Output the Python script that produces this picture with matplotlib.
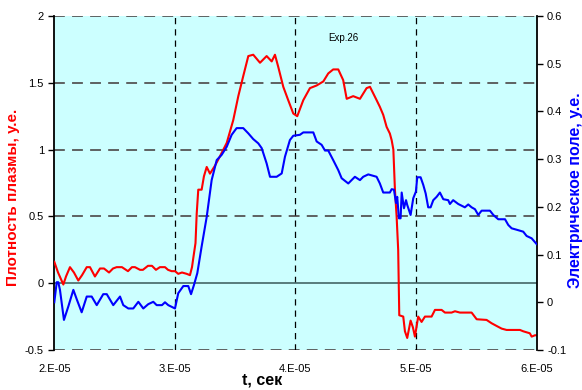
import numpy as np
import matplotlib
matplotlib.use('Agg')
import matplotlib.pyplot as plt

plt.rcParams['font.family'] = ['Liberation Sans', 'DejaVu Sans']

# плотность плазмы (левая ось), время в мкс
t_red = [20.0, 20.31, 20.75, 20.97, 21.30, 21.63, 21.99, 22.30, 22.69, 22.96,
         23.37, 23.79, 24.12, 24.54, 24.87, 25.17, 25.61, 26.11, 26.44, 26.69,
         27.11, 27.35, 27.77, 28.10, 28.43, 28.76, 29.18, 29.43, 29.73, 30.01,
         30.28, 30.59, 30.98, 31.25, 31.42, 31.53, 31.71, 31.81, 31.94, 32.22,
         32.41, 32.64, 32.91, 33.33, 33.74, 34.30, 34.84, 35.26, 35.67, 36.09,
         36.50, 37.06, 37.61, 38.03, 38.30, 38.57, 38.99, 39.40, 39.82, 40.15,
         40.65, 41.20, 41.76, 42.31, 42.72, 43.13, 43.55, 43.96, 44.25, 44.79,
         45.35, 45.90, 46.18, 46.73, 47.00, 47.28, 47.56, 47.83, 47.98, 48.12,
         48.25, 48.39, 48.52, 48.61, 48.94, 49.08, 49.27, 49.55, 49.74, 49.91,
         50.18, 50.46, 50.74, 51.29, 51.57, 52.12, 52.40, 52.95, 53.23, 53.64,
         54.61, 55.03, 55.85, 56.27, 56.68, 57.10, 57.51, 58.62, 58.89, 59.44,
         59.59, 59.86, 60.0]
n_red = [0.16, 0.08, -0.01, 0.05, 0.12, 0.08, 0.02, 0.06, 0.12, 0.12,
         0.05, 0.11, 0.11, 0.08, 0.11, 0.12, 0.12, 0.09, 0.12, 0.12,
         0.10, 0.10, 0.13, 0.13, 0.10, 0.12, 0.12, 0.10, 0.09, 0.09,
         0.07, 0.08, 0.07, 0.06, 0.12, 0.19, 0.30, 0.52, 0.70, 0.70,
         0.80, 0.87, 0.82, 0.88, 0.95, 1.05, 1.22, 1.40, 1.55, 1.70,
         1.71, 1.65, 1.70, 1.66, 1.71, 1.62, 1.47, 1.37, 1.27, 1.25,
         1.37, 1.46, 1.48, 1.51, 1.57, 1.60, 1.60, 1.52, 1.38, 1.40,
         1.38, 1.46, 1.47, 1.37, 1.32, 1.26, 1.17, 1.12, 1.07, 1.00,
         0.70, 0.50, 0.25, -0.24, -0.25, -0.36, -0.41, -0.28, -0.33, -0.40,
         -0.25, -0.29, -0.25, -0.25, -0.20, -0.20, -0.22, -0.22, -0.21, -0.22,
         -0.22, -0.27, -0.275, -0.30, -0.32, -0.34, -0.35, -0.35, -0.36, -0.375,
         -0.40, -0.39, -0.39]

# электрическое поле (правая ось)
t_blue = [20.0, 20.20, 20.33, 20.47, 20.80, 21.16, 21.58, 21.88, 22.27, 22.69,
          23.10, 23.52, 24.06, 24.35, 24.89, 25.45, 25.72, 26.14, 26.55, 26.97,
          27.38, 27.79, 28.21, 28.49, 28.93, 29.18, 29.45, 30.01, 30.28, 30.70,
          31.11, 31.34, 31.58, 31.86, 32.22, 32.64, 33.05, 33.47, 33.88, 34.30,
          34.71, 35.12, 35.67, 36.09, 36.50, 36.92, 37.20, 37.61, 37.89, 38.44,
          38.86, 39.13, 39.54, 39.82, 40.37, 40.65, 41.48, 41.76, 42.17, 42.45,
          42.72, 43.13, 43.55, 43.83, 44.38, 44.93, 45.35, 45.62, 46.04, 46.73,
          47.00, 47.28, 47.83, 47.98, 48.17, 48.34, 48.44, 48.58, 48.72, 48.81,
          49.00, 49.17, 49.27, 49.55, 49.77, 49.99, 50.10, 50.38, 50.60, 50.80,
          51.01, 51.21, 51.43, 51.71, 51.98, 52.26, 52.67, 52.81, 53.08, 53.50,
          54.05, 54.33, 54.61, 54.89, 55.16, 55.44, 56.13, 56.41, 56.82, 57.38,
          57.65, 57.93, 58.35, 58.89, 59.17, 59.59, 60.0]
e_blue = [0.0, 0.042, 0.042, 0.026, -0.037, -0.009, 0.026, 0.005, -0.021, 0.012,
          0.012, -0.006, 0.017, 0.017, -0.006, 0.012, -0.006, -0.013, -0.013, 0.001,
          -0.013, -0.004, 0.001, -0.006, -0.006, 0.0, -0.006, -0.013, 0.019, 0.034,
          0.034, 0.017, 0.036, 0.061, 0.117, 0.179, 0.256, 0.298, 0.309, 0.326,
          0.351, 0.365, 0.365, 0.354, 0.342, 0.333, 0.323, 0.291, 0.263, 0.263,
          0.27, 0.305, 0.34, 0.349, 0.351, 0.356, 0.356, 0.337, 0.33, 0.318,
          0.318, 0.298, 0.277, 0.26, 0.249, 0.263, 0.256, 0.263, 0.268, 0.263,
          0.249, 0.23, 0.23, 0.237, 0.236, 0.208, 0.221, 0.176, 0.176, 0.23,
          0.197, 0.214, 0.204, 0.183, 0.218, 0.232, 0.262, 0.262, 0.246, 0.228,
          0.199, 0.199, 0.214, 0.221, 0.23, 0.216, 0.214, 0.206, 0.214, 0.206,
          0.199, 0.205, 0.199, 0.195, 0.183, 0.192, 0.192, 0.183, 0.174, 0.174,
          0.162, 0.155, 0.152, 0.148, 0.139, 0.134, 0.122]

x_ticks = [2e-5, 3e-5, 4e-5, 5e-5, 6e-5]
x_labels = ['2.E-05', '3.E-05', '4.E-05', '5.E-05', '6.E-05']
left_ticks = [-0.5, 0, 0.5, 1, 1.5, 2]
left_labels = ['-0.5', '0', '0.5', '1', '1.5', '2']
right_ticks = [-0.1, 0, 0.1, 0.2, 0.3, 0.4, 0.5, 0.6]
right_labels = ['-0.1', '0', '0.1', '0.2', '0.3', '0.4', '0.5', '0.6']

fig = plt.figure(figsize=(5.82, 3.90), dpi=100)
ax = fig.add_axes([0.0933, 0.1026, 0.8287, 0.8564])
ax.set_facecolor('#CCFFFF')

ax.set_xlim(2e-5, 6e-5)
ax.set_ylim(-0.5, 2)
ax.set_xticks(x_ticks)
ax.set_xticklabels(x_labels)
ax.set_yticks(left_ticks)
ax.set_yticklabels(left_labels)
ax.tick_params(axis='x', length=0, labelsize=8, pad=10)
ax.tick_params(axis='y', direction='out', length=4, labelsize=8, width=1)

for s in ['top', 'bottom', 'right']:
    ax.spines[s].set_visible(False)
ax.spines['left'].set_linewidth(1.3)

# сетка
for yv in [-0.5, 0.5, 1, 1.5, 2]:
    ax.axhline(yv, color='#555555', lw=1.3, dashes=(6, 4), zorder=1)
for xv in [3e-5, 4e-5, 5e-5]:
    ax.axvline(xv, color='black', lw=0.9, dashes=(5, 4), zorder=1)
ax.axhline(0, color='#446666', lw=1.2, zorder=1)

ax.plot(np.array(t_red) * 1e-6, n_red, color='#FF0000', lw=1.5, zorder=3)

ax2 = ax.twinx()
ax2.set_ylim(-0.1, 0.6)
ax2.set_yticks(right_ticks)
ax2.set_yticklabels(right_labels)
ax2.tick_params(axis='y', direction='out', length=4, labelsize=8, width=1)
for s in ['top', 'bottom', 'left']:
    ax2.spines[s].set_visible(False)
ax2.spines['right'].set_linewidth(1.3)
ax2.plot(np.array(t_blue) * 1e-6, e_blue, color='#0000FF', lw=1.5, zorder=3)

ax.set_xlabel('t, сек', fontsize=11.5, fontweight='bold')
ax.xaxis.set_label_coords(0.4306, -0.068)
ax.set_ylabel('Плотность плазмы, у.е.', fontsize=11, fontweight='bold', color='#FF0000')
ax.yaxis.set_label_coords(-0.071, 0.458)
ax2.set_ylabel('Электрическое поле, у.е.', fontsize=11.5, fontweight='bold', color='#0000FF')
ax2.yaxis.set_label_coords(1.065, 0.479)

ax.text(0.6, 0.935, 'Exp.26', transform=ax.transAxes, fontsize=7, ha='center', va='center')

fig.savefig('out.png', dpi=100)
